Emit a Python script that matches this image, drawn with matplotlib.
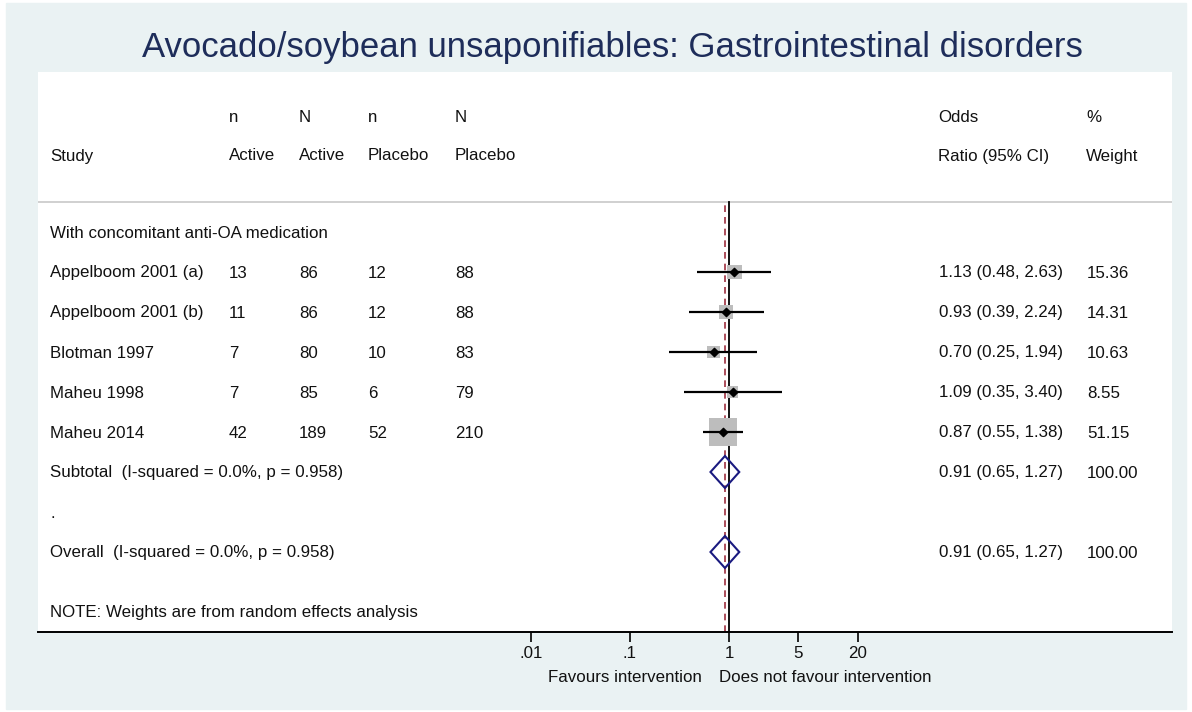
"""Forest plot: avocado/soybean unsaponifiables, GI disorders."""
import numpy as np
import matplotlib.pyplot as plt
from matplotlib.patches import Rectangle
from matplotlib.transforms import blended_transform_factory

plt.switch_backend("agg")
plt.rcParams["font.family"] = ["Liberation Sans", "DejaVu Sans"]

studies = ["Appelboom 2001 (a)", "Appelboom 2001 (b)", "Blotman 1997",
           "Maheu 1998", "Maheu 2014"]
n_active = [13, 11, 7, 7, 42]
N_active = [86, 86, 80, 85, 189]
n_placebo = [12, 12, 10, 6, 52]
N_placebo = [88, 88, 83, 79, 210]
odds = [1.13, 0.93, 0.70, 1.09, 0.87]
lo = [0.48, 0.39, 0.25, 0.35, 0.55]
hi = [2.63, 2.24, 1.94, 3.40, 1.38]
weight = [15.36, 14.31, 10.63, 8.55, 51.15]
pooled = (0.91, 0.65, 1.27)
subtotal_label = "Subtotal  (I-squared = 0.0%, p = 0.958)"
overall_label = "Overall  (I-squared = 0.0%, p = 0.958)"
tick_vals = [0.01, 0.1, 1, 5, 20]
tick_labels = [".01", ".1", "1", "5", "20"]

W, H = 1192, 712
FS = 12.2
fig = plt.figure(figsize=(W / 100, H / 100), dpi=100, facecolor="white")
fig.patches.append(Rectangle((6 / W, 3 / H), 1180 / W, 706 / H,
                             transform=fig.transFigure, color="#EAF2F3",
                             zorder=-10))

# plot region in pixels
L, R, T, B = 38, 1172, 72, 632
x1, dec = 729, 99  # pixel of OR=1 and pixels per decade
ax = fig.add_axes([L / W, (H - B) / H, (R - L) / W, (B - T) / H])
ax.set_facecolor("white")
ax.set_xscale("log")
ax.set_xlim(10 ** ((L - x1) / dec), 10 ** ((R - x1) / dec))
ax.set_ylim(B, T)
for s in ["top", "left", "right"]:
    ax.spines[s].set_visible(False)
ax.spines["bottom"].set_linewidth(1.4)
ax.set_xticks(tick_vals)
ax.set_xticklabels(tick_labels, fontsize=FS)
ax.minorticks_off()
ax.tick_params(axis="x", length=7, width=1.2, pad=3, labelcolor="#111111")
ax.set_yticks([])

tr = blended_transform_factory(ax.transAxes, ax.transData)


def put(xpix, y, s, **kw):
    ax.text((xpix - L) / (R - L), y + 1, s, transform=tr, va="center",
            fontsize=FS, color="#111111", **kw)


# headers
cols = [229, 299, 368, 455]
put(50, 155, "Study")
for c, top, bot in zip(cols, ["n", "N", "n", "N"],
                       ["Active", "Active", "Placebo", "Placebo"]):
    put(c, 117, top)
    put(c, 155, bot)
put(938, 117, "Odds")
put(938, 155, "Ratio (95% CI)")
put(1086, 117, "%")
put(1086, 155, "Weight")
ax.plot([0, 1], [202, 202], transform=tr, color="#C8C8C8", lw=1.2)

row0, step = 232, 40
put(50, row0, "With concomitant anti-OA medication")

ys = [row0 + step * (i + 1) for i in range(len(studies))]
ax.axvline(1, ymin=0, ymax=(B - 202) / (B - T), color="black", lw=1.3)
ax.axvline(pooled[0], ymin=0, ymax=(B - 202) / (B - T), color="#9E3040",
           lw=1.2, ls=(0, (4, 3)))

side_pt = [3.8 * np.sqrt(w) * 0.72 for w in weight]
ax.scatter(odds, ys, marker="s", s=[p ** 2 for p in side_pt],
           color="#BDBDBD", zorder=3, linewidths=0)
ax.hlines(ys, lo, hi, color="black", lw=1.6, zorder=4)
ax.scatter(odds, ys, marker="D", s=18, color="black", zorder=5)

for i, y in enumerate(ys):
    put(50, y, studies[i])
    for c, v in zip(cols, [n_active[i], N_active[i], n_placebo[i],
                           N_placebo[i]]):
        put(c, y, str(v))
    put(939, y, f"{odds[i]:.2f} ({lo[i]:.2f}, {hi[i]:.2f})")
    put(1087, y, f"{weight[i]:.2f}")

pooled_str = f"{pooled[0]:.2f} ({pooled[1]:.2f}, {pooled[2]:.2f})"
y_sub = row0 + step * 6
y_dot = row0 + step * 7
y_all = row0 + step * 8
for y, lab in [(y_sub, subtotal_label), (y_all, overall_label)]:
    ax.fill([pooled[1], pooled[0], pooled[2], pooled[0]],
            [y, y - 16, y, y + 16], facecolor="none", edgecolor="#1A1A80",
            lw=1.5, zorder=6)
    put(50, y, lab)
    put(939, y, pooled_str)
    put(1087, y, "100.00")
put(50, y_dot, ".")
put(50, 612, "NOTE: Weights are from random effects analysis")

fig.text(702 / W, 1 - 677 / H, "Favours intervention", ha="right",
         va="center", fontsize=FS, color="#111111")
fig.text(719 / W, 1 - 677 / H, "Does not favour intervention",
         ha="left", va="center", fontsize=FS, color="#111111")

fig.text(612 / W, 1 - 48 / H,
         "Avocado/soybean unsaponifiables: Gastrointestinal disorders",
         ha="center", va="center", fontsize=25, color="#1E2D5A")

fig.savefig("out.png", dpi=100, facecolor="white")
plt.close(fig)
